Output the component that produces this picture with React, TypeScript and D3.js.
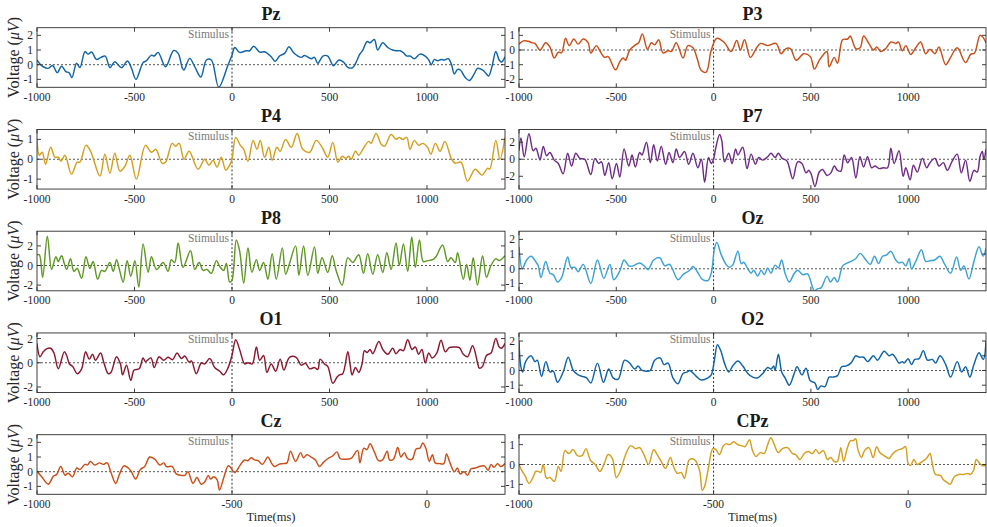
import React from 'react';
import * as d3 from 'd3';

type Pt = [number, number];

// ---- data: [time (ms), voltage (uV)] ----
const pzData: Pt[] = [[-1000,0.32],[-985,0.05],[-968,-0.14],[-942,-0.25],[-920,-0.05],[-896,-0.54],[-874,-0.1],[-852,-0.47],[-836,-0.54],[-821,-0.88],[-797,0.1],[-780,-0.2],[-754,0.88],[-737,0.72],[-720,0.86],[-695,0.36],[-672,0.5],[-650,0.59],[-626,-0.2],[-601,0.2],[-567,-0.2],[-536,0.25],[-515,-0.25],[-493,-1.0],[-456,0.14],[-439,0.27],[-413,0.65],[-399,0.59],[-379,0.84],[-341,-0.14],[-299,0.97],[-276,0.77],[-254,-0.25],[-246,-0.36],[-217,0.43],[-191,-0.14],[-160,-0.84],[-131,0.32],[-106,0.32],[-68,-1.53],[-20,0.0],[0,0.65],[14,1.17],[39,0.84],[73,0.95],[90,0.95],[111,1.26],[142,0.86],[167,0.88],[201,0.54],[222,0.23],[244,0.59],[270,0.77],[292,1.22],[316,0.81],[338,0.59],[355,0.5],[372,0.63],[406,0.41],[423,0.5],[440,0.09],[466,0.59],[491,0.59],[520,-0.07],[548,0.32],[572,0.18],[594,-0.18],[619,-0.2],[640,0.27],[654,0.68],[671,1.0],[693,1.58],[708,1.49],[730,1.72],[747,1.0],[773,1.49],[799,1.17],[824,1.0],[845,0.95],[862,0.95],[879,0.81],[896,0.59],[913,0.59],[935,0.41],[964,0.72],[991,0.59],[1009,0.32],[1022,0.0],[1038,0.36],[1055,0.27],[1072,0.36],[1089,0.32],[1109,0.41],[1126,0.0],[1140,-0.63],[1157,-0.32],[1171,-0.36],[1195,-0.86],[1217,-1.08],[1242,-0.63],[1259,-0.25],[1285,-0.36],[1302,-0.59],[1316,-0.77],[1333,-0.14],[1353,0.9],[1370,0.32],[1382,0.18],[1400,0.54]];

const p3Data: Pt[] = [[-1000,0.4],[-978,0.62],[-952,0.6],[-935,0.5],[-918,0.45],[-892,0.0],[-863,0.5],[-841,0.2],[-819,-0.55],[-798,-0.15],[-781,-0.18],[-761,0.8],[-742,0.3],[-718,0.75],[-696,0.4],[-670,0.75],[-645,0.5],[-631,-0.2],[-602,0.3],[-585,-0.05],[-559,-0.5],[-542,-0.45],[-504,-1.35],[-482,-0.8],[-465,-0.55],[-453,-0.7],[-431,0.0],[-402,0.35],[-385,0.5],[-366,1.1],[-340,0.05],[-320,0.5],[-303,0.35],[-282,0.7],[-260,-0.2],[-234,-0.05],[-217,-0.1],[-192,0.5],[-157,-0.55],[-132,0.3],[-106,0.15],[-84,-0.6],[-63,-1.4],[-38,-1.5],[-12,0.0],[17,0.8],[56,0.5],[90,-0.1],[119,0.65],[138,0.0],[159,0.7],[189,-0.5],[219,0.1],[241,0.45],[278,0.3],[321,0.45],[347,-0.25],[372,0.1],[395,0.1],[424,-0.7],[463,-0.25],[497,-0.45],[518,-1.3],[543,-0.7],[565,-0.3],[583,-0.1],[594,-1.15],[620,-0.5],[637,-0.9],[663,0.7],[689,0.75],[702,0.95],[731,0.1],[753,0.15],[771,0.95],[800,0.4],[822,0.0],[839,0.2],[859,-0.1],[885,0.1],[911,0.55],[936,0.45],[950,0.55],[970,-0.05],[988,0.3],[1013,-0.3],[1039,0.15],[1064,0.55],[1090,-0.25],[1112,0.05],[1138,-0.25],[1158,0.2],[1193,-1.0],[1218,-0.5],[1252,0.15],[1295,-0.85],[1321,-0.3],[1341,-0.2],[1369,1.0],[1382,0.9],[1400,0.5]];

const p4Data: Pt[] = [[-1000,1.0],[-988,0.2],[-973,0.35],[-956,-0.25],[-930,0.6],[-908,0.1],[-891,0.1],[-877,-0.1],[-857,0.2],[-823,-0.75],[-794,-0.15],[-780,-0.15],[-749,0.7],[-725,0.4],[-677,-0.85],[-652,0.25],[-626,-0.7],[-601,0.3],[-575,-0.6],[-549,-0.35],[-524,0.2],[-490,-1.0],[-444,0.7],[-413,0.35],[-391,0.5],[-358,-0.2],[-341,-0.15],[-307,0.8],[-290,0.65],[-271,0.8],[-246,0.0],[-220,0.4],[-174,-0.5],[-140,0.0],[-118,-0.3],[-97,-0.05],[-77,-0.4],[-55,0.1],[-32,-0.55],[-12,-0.3],[0,0.0],[19,1.1],[43,0.7],[60,0.5],[82,-0.1],[108,0.95],[128,0.5],[145,0.95],[167,0.1],[189,0.6],[206,-0.05],[230,0.6],[247,0.4],[275,1.0],[304,0.6],[334,1.3],[363,0.5],[398,0.35],[432,0.95],[462,0.6],[491,0.1],[517,0.85],[543,-0.15],[565,0.15],[582,0.05],[599,0.15],[611,0.0],[633,0.4],[650,0.2],[671,0.5],[701,0.9],[713,0.8],[739,1.3],[765,0.75],[782,0.65],[816,1.25],[841,1.0],[858,1.1],[875,1.0],[896,1.1],[913,0.5],[935,0.95],[957,0.7],[978,0.8],[1003,0.6],[1020,0.25],[1043,0.8],[1067,0.4],[1092,0.9],[1126,0.0],[1145,-0.2],[1174,-0.15],[1208,-1.1],[1247,-0.5],[1282,-0.8],[1311,-0.45],[1322,-0.5],[1353,0.95],[1374,0.0],[1400,1.1]];

const p7Data: Pt[] = [[-1000,1.0],[-990,2.5],[-973,0.3],[-949,3.0],[-927,1.0],[-913,1.3],[-901,0.5],[-892,-0.1],[-875,1.5],[-858,0.4],[-841,0.8],[-819,-0.1],[-798,-0.5],[-773,-1.7],[-750,0.7],[-730,-0.8],[-708,0.7],[-687,0.1],[-662,0.0],[-631,-1.8],[-610,0.1],[-590,-0.5],[-576,-0.3],[-559,-1.9],[-539,-0.4],[-521,-2.3],[-499,-0.5],[-482,-2.1],[-460,1.2],[-436,-0.8],[-419,0.5],[-402,-0.9],[-380,0.8],[-368,0.5],[-345,2.0],[-325,-0.4],[-308,1.7],[-289,-0.2],[-269,1.5],[-246,-0.6],[-229,0.8],[-209,-0.4],[-192,1.2],[-175,0.2],[-149,0.9],[-128,-0.6],[-106,0.7],[-81,-1.0],[-63,0.0],[-46,-2.7],[-26,0.2],[-12,-0.5],[0,0.0],[10,1.2],[31,2.9],[42,2.2],[56,-0.3],[78,0.7],[95,-0.5],[113,1.2],[125,0.5],[150,1.4],[172,-1.1],[193,0.6],[215,-0.6],[232,0.2],[253,-0.1],[278,0.3],[295,0.7],[316,0.2],[333,0.7],[352,0.1],[377,-0.2],[407,-2.3],[432,-0.3],[454,-0.5],[475,-1.6],[489,-1.3],[501,-1.7],[521,-3.2],[543,-1.5],[560,-1.2],[583,-1.9],[603,-1.6],[620,-0.8],[637,-1.3],[654,-1.4],[671,0.5],[689,-0.4],[709,0.2],[731,-2.2],[752,0.3],[771,-0.9],[791,0.3],[812,-1.0],[829,-0.8],[851,-1.1],[871,-1.0],[894,-1.0],[911,1.3],[928,-0.5],[953,1.0],[974,-2.0],[988,-1.0],[1010,-2.4],[1027,-0.7],[1047,-1.5],[1073,0.1],[1095,-1.0],[1112,-0.4],[1138,0.1],[1158,-0.8],[1181,-0.4],[1201,-1.3],[1227,-0.2],[1252,0.6],[1273,-1.6],[1295,-0.1],[1317,-2.6],[1338,-1.3],[1355,-1.5],[1369,0.3],[1381,0.9],[1389,0.0],[1400,1.2]];

const p8Data: Pt[] = [[-1000,1.1],[-988,1.1],[-971,-1.2],[-947,3.0],[-925,-0.4],[-903,0.9],[-891,0.4],[-874,1.0],[-860,0.2],[-848,-0.4],[-828,0.7],[-811,-0.6],[-794,-0.3],[-771,-1.3],[-749,0.9],[-729,-0.3],[-712,0.4],[-689,-1.4],[-669,-0.5],[-652,-0.6],[-626,0.3],[-609,-0.6],[-592,0.6],[-575,-0.6],[-558,-1.7],[-538,0.5],[-519,-1.1],[-498,0.5],[-478,-2.2],[-456,2.2],[-430,-0.7],[-413,0.9],[-387,-0.4],[-353,0.3],[-328,-0.6],[-311,0.6],[-294,0.3],[-276,2.3],[-251,-0.2],[-213,1.5],[-191,-0.4],[-169,0.3],[-148,-0.5],[-128,-0.4],[-106,-0.8],[-80,0.5],[-63,-0.1],[-43,-0.5],[-29,0.2],[-12,-1.7],[0,-1.5],[22,2.6],[39,1.5],[60,-1.8],[82,1.8],[102,-0.7],[125,0.6],[142,-0.5],[162,0.3],[184,-1.4],[206,1.2],[227,-1.4],[258,1.8],[275,-0.9],[295,0.2],[326,2.0],[343,-1.0],[367,2.0],[389,-1.0],[423,1.9],[440,-0.8],[462,0.8],[491,-0.7],[514,1.0],[534,-0.5],[565,-2.0],[594,0.8],[619,0.3],[650,1.1],[674,-0.8],[696,1.2],[722,-0.9],[747,1.1],[773,-0.7],[794,1.3],[816,-0.4],[841,2.3],[858,0.0],[879,2.2],[901,-0.6],[922,2.9],[940,-0.2],[961,2.6],[981,0.4],[1003,0.5],[1029,0.6],[1046,0.9],[1080,2.1],[1106,0.4],[1123,0.8],[1145,0.3],[1157,1.3],[1186,-1.4],[1203,0.1],[1220,-1.5],[1237,0.8],[1259,-2.0],[1285,1.0],[1305,-1.2],[1328,0.0],[1353,0.7],[1370,0.5],[1400,1.0]];

const ozData: Pt[] = [[-1000,1.5],[-983,0.0],[-961,0.6],[-938,0.85],[-915,0.5],[-901,0.2],[-887,-0.6],[-863,0.5],[-841,-0.3],[-824,-0.4],[-802,-0.9],[-781,-0.6],[-750,0.8],[-733,0.1],[-713,0.1],[-696,-0.2],[-670,0.3],[-631,-1.0],[-597,0.6],[-564,-0.65],[-533,0.3],[-513,-0.75],[-482,-0.15],[-460,0.6],[-436,0.2],[-414,0.2],[-380,0.4],[-357,0.2],[-337,-0.05],[-308,0.6],[-277,0.75],[-251,0.2],[-226,0.3],[-183,-0.75],[-157,-0.4],[-123,-0.1],[-106,0.15],[-84,-0.2],[-60,-0.7],[-46,-0.8],[-29,-0.8],[-12,-0.3],[5,1.4],[17,1.8],[38,1.0],[64,0.3],[81,0.1],[98,0.25],[125,1.2],[142,0.35],[155,0.45],[176,0.0],[193,-0.3],[206,-0.1],[227,-0.5],[244,-0.1],[261,-0.4],[278,0.05],[295,-0.3],[316,0.25],[333,0.05],[350,0.6],[367,-0.3],[389,-0.9],[415,-0.3],[432,-0.1],[458,-0.4],[483,-0.35],[518,-1.5],[535,-1.35],[552,-1.3],[583,-0.5],[600,-0.9],[620,-0.6],[637,-0.9],[663,0.2],[680,0.35],[706,0.5],[731,0.7],[753,1.05],[783,0.6],[805,0.3],[827,0.85],[848,0.35],[868,0.85],[890,0.95],[911,1.2],[936,0.6],[953,0.4],[970,0.45],[988,0.2],[1005,0.7],[1017,0.0],[1039,0.5],[1068,1.3],[1090,0.5],[1112,0.55],[1136,0.6],[1163,0.85],[1188,0.3],[1218,-0.3],[1249,0.8],[1270,-0.1],[1287,0.2],[1312,-0.7],[1338,0.5],[1364,1.5],[1385,0.85],[1400,1.4]];

const o1Data: Pt[] = [[-1000,1.6],[-985,0.5],[-968,0.9],[-951,1.15],[-930,1.2],[-913,0.8],[-891,-0.5],[-860,0.9],[-848,0.6],[-834,-0.1],[-817,-0.3],[-794,-0.9],[-771,-0.5],[-751,0.9],[-732,0.3],[-715,0.7],[-700,0.2],[-674,0.8],[-657,0.0],[-635,-0.9],[-621,-0.8],[-592,0.5],[-572,-0.1],[-561,-1.0],[-541,-0.2],[-519,-1.45],[-502,-0.6],[-476,-0.5],[-456,0.4],[-444,0.1],[-416,0.4],[-399,-0.4],[-374,0.5],[-350,0.2],[-328,0.45],[-305,0.25],[-282,0.8],[-259,0.35],[-242,0.55],[-220,0.05],[-208,0.15],[-183,-0.9],[-157,0.0],[-140,-0.1],[-114,0.35],[-89,-0.4],[-63,-0.7],[-43,-1.0],[-20,-0.4],[0,0.6],[19,1.9],[39,1.1],[65,-0.1],[82,0.0],[104,-0.1],[125,1.3],[142,0.2],[162,0.6],[179,-0.8],[201,-0.1],[224,-0.7],[247,0.3],[266,-0.6],[295,0.45],[329,0.45],[355,-0.2],[377,-0.05],[398,-0.5],[423,-0.4],[440,-0.55],[452,0.3],[474,-0.1],[491,-0.3],[517,-1.7],[538,-1.2],[551,-1.0],[568,-0.9],[594,0.9],[606,-0.2],[616,-1.0],[633,-0.4],[650,-0.8],[667,-0.1],[679,1.0],[693,0.85],[708,1.1],[722,0.75],[753,1.75],[773,1.1],[799,0.7],[824,1.2],[841,0.75],[862,1.1],[879,1.0],[901,1.9],[923,1.1],[940,1.3],[957,0.7],[974,1.1],[991,0.0],[1009,0.8],[1026,0.4],[1050,0.8],[1072,1.85],[1094,0.9],[1114,1.25],[1140,1.3],[1166,1.25],[1186,0.7],[1208,0.5],[1234,1.4],[1259,0.0],[1268,-0.45],[1285,-0.3],[1305,0.6],[1328,0.8],[1353,2.0],[1370,1.3],[1382,1.2],[1400,1.6]];

const o2Data: Pt[] = [[-1000,2.0],[-991,0.3],[-981,-0.1],[-966,0.6],[-938,1.0],[-918,0.6],[-906,0.7],[-884,-0.4],[-862,0.6],[-841,-0.1],[-824,-0.05],[-802,-0.8],[-773,-0.1],[-747,0.9],[-721,0.0],[-696,-0.3],[-675,-0.4],[-653,-0.5],[-631,-0.85],[-597,0.5],[-566,-0.8],[-539,0.1],[-516,-0.5],[-491,-0.6],[-457,0.7],[-431,0.5],[-405,0.1],[-388,0.3],[-368,0.0],[-345,-0.05],[-325,0.0],[-303,0.7],[-274,0.85],[-255,0.4],[-234,0.5],[-209,-0.5],[-183,-0.9],[-157,-0.2],[-135,-0.1],[-123,0.0],[-89,-0.4],[-63,-0.65],[-29,-0.5],[-12,-0.3],[3,0.6],[20,1.75],[38,1.3],[56,0.5],[78,-0.1],[98,0.3],[125,0.65],[150,0.3],[176,-0.2],[201,-0.45],[227,-0.5],[253,-0.2],[278,0.2],[295,0.1],[309,0.3],[316,0.0],[333,1.1],[350,-0.1],[367,-0.5],[389,-1.0],[412,-0.3],[429,0.25],[454,-0.3],[475,0.15],[497,-0.7],[521,-0.85],[535,-1.3],[552,-1.05],[572,-1.1],[594,-0.45],[612,-0.45],[637,-0.35],[658,0.25],[680,0.3],[706,0.5],[731,1.0],[748,0.9],[771,0.9],[791,0.6],[822,1.0],[842,0.7],[877,1.3],[902,1.0],[919,1.1],[936,0.85],[953,0.5],[970,0.6],[979,0.5],[1000,0.8],[1017,0.4],[1034,0.75],[1056,0.8],[1078,1.35],[1099,0.7],[1124,0.75],[1141,0.5],[1164,1.0],[1193,0.4],[1218,-0.45],[1252,0.6],[1275,-0.1],[1295,0.25],[1317,-0.45],[1338,0.4],[1364,1.2],[1386,0.75],[1400,2.0]];

const czData: Pt[] = [[-1000,0.05],[-988,-0.35],[-971,-0.85],[-958,-0.3],[-950,-0.2],[-939,0.35],[-928,-0.25],[-920,-0.1],[-909,-0.35],[-898,0.25],[-890,0.15],[-877,0.5],[-871,0.45],[-863,0.7],[-852,0.45],[-840,0.6],[-830,0.5],[-820,0.6],[-811,0.0],[-798,-0.8],[-789,-0.2],[-777,0.4],[-766,0.25],[-758,0.0],[-747,-0.5],[-735,0.15],[-724,0.35],[-711,1.0],[-698,0.85],[-685,0.45],[-675,0.6],[-668,0.35],[-653,0.35],[-643,-0.15],[-630,-0.25],[-621,-0.25],[-613,0.0],[-600,-0.8],[-590,-0.4],[-579,-0.85],[-570,-0.7],[-561,-0.25],[-555,-0.5],[-547,-0.35],[-538,-0.55],[-532,-1.25],[-521,-0.4],[-510,0.4],[-504,0.3],[-493,-0.05],[-479,0.45],[-468,0.8],[-459,0.75],[-451,0.95],[-442,0.8],[-433,0.75],[-422,0.5],[-408,1.0],[-399,0.6],[-391,0.35],[-380,0.5],[-369,0.55],[-359,0.6],[-350,1.4],[-337,0.7],[-324,1.3],[-317,0.95],[-308,1.15],[-297,1.0],[-286,0.8],[-276,0.35],[-265,0.65],[-254,0.9],[-243,1.05],[-231,1.35],[-223,0.9],[-212,0.85],[-195,0.9],[-178,1.45],[-172,0.6],[-162,1.6],[-154,1.5],[-146,1.9],[-135,1.35],[-124,0.75],[-114,0.8],[-102,1.4],[-96,0.8],[-86,0.85],[-75,1.65],[-67,1.0],[-58,1.3],[-50,0.9],[-38,0.85],[-28,1.55],[-18,1.6],[-11,1.95],[-3,1.6],[6,0.7],[14,1.15],[21,0.6],[32,0.55],[43,0.55],[50,1.2],[59,0.6],[70,0.0],[78,0.25],[85,-0.15],[95,0.0],[104,-0.25],[113,0.2],[124,0.25],[134,0.35],[147,0.4],[157,0.1],[164,0.5],[172,0.3],[181,0.55],[189,0.35],[200,0.55]];

const cpzData: Pt[] = [[-1000,0.0],[-993,-0.3],[-985,-0.55],[-974,-0.95],[-963,-0.6],[-957,-0.35],[-950,-0.35],[-944,-0.4],[-938,0.0],[-929,-0.7],[-921,-0.65],[-909,-0.85],[-899,-0.1],[-892,-0.35],[-882,0.7],[-872,0.55],[-861,0.75],[-850,0.45],[-838,0.45],[-828,0.8],[-816,0.2],[-804,0.0],[-792,-0.35],[-780,0.1],[-771,0.5],[-760,0.3],[-750,-0.65],[-739,-0.3],[-727,0.45],[-713,0.95],[-701,0.8],[-690,0.85],[-679,0.5],[-667,0.0],[-654,0.75],[-645,0.5],[-633,0.1],[-624,-0.2],[-611,0.35],[-603,-0.1],[-593,-0.45],[-583,-0.4],[-575,-0.7],[-562,0.25],[-549,0.25],[-536,-0.3],[-529,-1.3],[-523,-1.1],[-513,-0.15],[-502,0.8],[-494,0.75],[-485,0.5],[-476,0.9],[-468,1.05],[-459,1.0],[-448,1.15],[-438,1.0],[-428,0.95],[-419,0.9],[-408,1.25],[-400,0.7],[-391,0.4],[-380,0.6],[-370,0.55],[-361,1.0],[-353,1.35],[-344,1.0],[-334,0.6],[-323,0.8],[-310,0.85],[-297,0.55],[-289,0.5],[-278,0.25],[-267,0.55],[-257,0.65],[-246,0.55],[-237,0.75],[-229,0.55],[-218,0.7],[-207,0.25],[-199,0.35],[-190,0.15],[-182,0.15],[-173,0.85],[-166,0.15],[-156,0.85],[-148,1.2],[-141,1.2],[-135,1.3],[-129,0.75],[-120,0.35],[-112,0.7],[-101,0.85],[-90,0.35],[-81,0.9],[-73,0.6],[-62,0.45],[-49,0.3],[-41,0.5],[-30,0.7],[-15,0.8],[-7,0.9],[0,0.05],[6,-0.05],[15,0.25],[23,0.0],[36,0.15],[47,0.3],[56,0.55],[62,0.05],[70,-0.5],[83,-0.55],[90,-0.75],[100,-0.9],[108,-1.0],[119,-0.6],[130,-0.5],[143,-0.5],[153,-0.45],[160,-0.5],[168,-0.3],[175,0.25],[184,0.05],[190,-0.05],[200,-0.05]];

// ---- axes ----
const mainXDomain = [-1000, 1400];
const mainXTicks = [-1000, -500, 0, 500, 1000];
const mainStimulus = 0;
const lastXDomain = [-1000, 200];
const lastXTicks = [-1000, -500, 0];
const lastStimulus = -500;

const channelNames = ['Pz', 'P3', 'P4', 'P7', 'P8', 'Oz', 'O1', 'O2', 'Cz', 'CPz'];
const channelData = [pzData, p3Data, p4Data, p7Data, p8Data, ozData, o1Data, o2Data, czData, cpzData];
const yDomains = [[-1.54, 2.52], [-2.54, 1.52], [-1.5, 1.5], [-3.5, 3.5], [-2.58, 3.5], [-1.5, 2.56], [-2.46, 2.46], [-1.5, 2.55], [-1.54, 2.52], [-1.5, 1.5]];
const yTickSets = [[-1, 0, 1, 2], [-2, -1, 0, 1], [-1, 0, 1], [-2, 0, 2], [-2, 0, 2], [-1, 0, 1, 2], [-2, 0, 2], [-1, 0, 1, 2], [-1, 0, 1, 2], [-1, 0, 1]];
const lineColors = ['#1064a6', '#c94e18', '#d59f1e', '#6e2c86', '#5f9723', '#3ba2d4', '#8b1831', '#1064a6', '#c94e18', '#d59f1e'];

const W = 987;
const H = 527;
const FONT = "'Liberation Serif','Times New Roman',serif";
const colX: [number, number][] = [[37, 505], [519, 986]];
const rowTop0 = 27.7;
const rowStep = 101.75;
const plotH = 59.6;
const TICK = 4;
const AX = '#2b2b2b';

function Panel({ idx }: { idx: number }) {
  const row = Math.floor(idx / 2);
  const col = idx % 2;
  const [x0, x1] = colX[col];
  const top = rowTop0 + row * rowStep;
  const bottom = top + plotH;
  const isLast = row === 4;
  const x = d3.scaleLinear().domain(isLast ? lastXDomain : mainXDomain).range([x0, x1]);
  const y = d3.scaleLinear().domain(yDomains[idx]).range([bottom, top]);
  const xTicks = isLast ? lastXTicks : mainXTicks;
  const stim = isLast ? lastStimulus : mainStimulus;
  const line = d3.line<Pt>().x(d => x(d[0])).y(d => y(d[1])).curve(d3.curveCatmullRom.alpha(0.5));
  const clipId = `clip${idx}`;
  const sx = x(stim);
  return (
    <g>
      <defs>
        <clipPath id={clipId}>
          <rect x={x0} y={top} width={x1 - x0} height={plotH} />
        </clipPath>
      </defs>
      <rect x={x0} y={top} width={x1 - x0} height={plotH} fill="#fff" />
      <line x1={x0} x2={x1} y1={y(0)} y2={y(0)} stroke="#555" strokeWidth={1} strokeDasharray="2,2" />
      <line x1={sx} x2={sx} y1={top} y2={bottom} stroke="#1a1a1a" strokeWidth={0.9} strokeDasharray="2,2" />
      <path d={line(channelData[idx]) || ''} fill="none" stroke={lineColors[idx]} strokeWidth={1.45} clipPath={`url(#${clipId})`} strokeLinejoin="round" />
      <text x={sx - 3} y={top + 10.5} textAnchor="end" fontSize={11.5} fill="#7a7a7a" fontFamily={FONT}>Stimulus</text>
      <rect x={x0} y={top} width={x1 - x0} height={plotH} fill="none" stroke={AX} strokeWidth={0.9} />
      {xTicks.map(t => (
        <g key={`xt${t}`}>
          <line x1={x(t)} x2={x(t)} y1={bottom} y2={bottom - TICK} stroke={AX} strokeWidth={0.9} />
          <line x1={x(t)} x2={x(t)} y1={top} y2={top + TICK} stroke={AX} strokeWidth={0.9} />
          <text x={x(t)} y={bottom + 13.5} textAnchor="middle" fontSize={11.5} fill="#262626" fontFamily={FONT}>{String(t)}</text>
        </g>
      ))}
      {yTickSets[idx].map(t => (
        <g key={`yt${t}`}>
          <line x1={x0} x2={x0 + TICK} y1={y(t)} y2={y(t)} stroke={AX} strokeWidth={0.9} />
          <line x1={x1} x2={x1 - TICK} y1={y(t)} y2={y(t)} stroke={AX} strokeWidth={0.9} />
          <text x={x0 - 4} y={y(t)} dy="0.35em" textAnchor="end" fontSize={11.5} fill="#262626" fontFamily={FONT}>{String(t)}</text>
        </g>
      ))}
      <text x={(x0 + x1) / 2} y={top - 7.5} textAnchor="middle" fontSize={18} fontWeight="bold" fill="#1a1a1a" fontFamily={FONT}>{channelNames[idx]}</text>
      {col === 0 && (
        <text transform={`translate(19, ${(top + bottom) / 2}) rotate(-90)`} textAnchor="middle" fontSize={16} fill="#262626" fontFamily={FONT}>
          Voltage (<tspan fontStyle="italic">μV</tspan>)
        </text>
      )}
      {isLast && (
        <text x={(x0 + x1) / 2} y={521} textAnchor="middle" fontSize={12.5} fill="#262626" fontFamily={FONT}>Time(ms)</text>
      )}
    </g>
  );
}

export default function App() {
  return (
    <svg width={W} height={H} viewBox={`0 0 ${W} ${H}`} style={{ position: 'absolute', left: 0, top: 0, background: '#fff' }}>
      <rect x={0} y={0} width={W} height={H} fill="#fff" />
      {channelNames.map((_, i) => <Panel key={i} idx={i} />)}
    </svg>
  );
}
